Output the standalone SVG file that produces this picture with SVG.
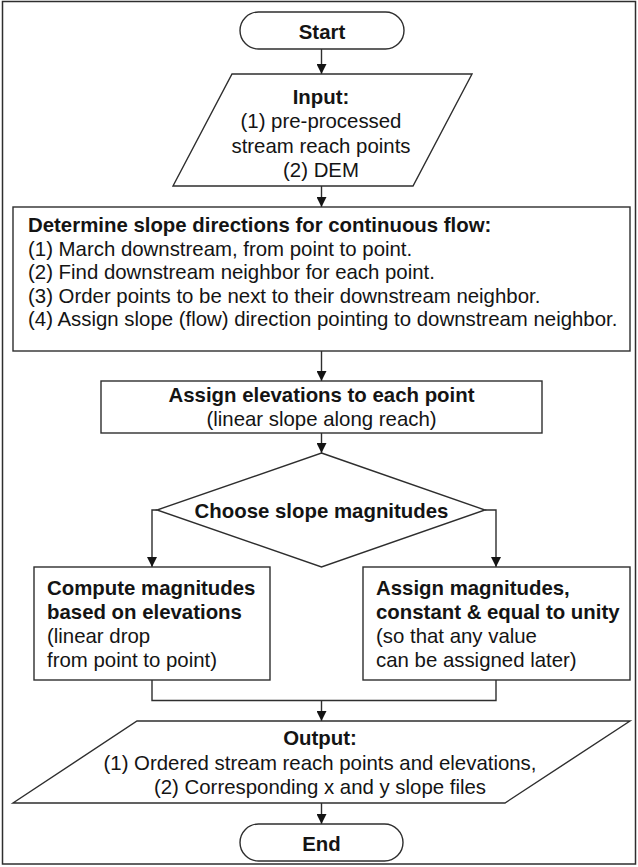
<svg xmlns="http://www.w3.org/2000/svg" width="638" height="867" viewBox="0 0 638 867">
  <style>
    .shape { fill: #ffffff; stroke: #2e2e2e; stroke-width: 1.4; }
    .line { fill: none; stroke: #2e2e2e; stroke-width: 1.4; }
    text { font-family: "Liberation Sans", Arial, sans-serif; font-size: 20.4px; fill: #141414; }
    .b { font-weight: bold; }
    .c { text-anchor: middle; }
  </style>
  <defs>
    <marker id="arrow" markerUnits="userSpaceOnUse" markerWidth="10" markerHeight="10" refX="10" refY="5" orient="auto">
      <path d="M0,0 L10,5 L0,10 Z" fill="#141414"/>
    </marker>
  </defs>

  <!-- outer frame -->
  <rect x="2.5" y="1.5" width="633" height="862.5" fill="#ffffff" stroke="#2e2e2e" stroke-width="1.5"/>

  <!-- connectors -->
  <g id="connectors">
    <line class="line" x1="321.5" y1="49" x2="321.5" y2="74" marker-end="url(#arrow)"/>
    <line class="line" x1="321.5" y1="186" x2="321.5" y2="207" marker-end="url(#arrow)"/>
    <line class="line" x1="321.5" y1="351" x2="321.5" y2="381" marker-end="url(#arrow)"/>
    <line class="line" x1="321.5" y1="433" x2="321.5" y2="453" marker-end="url(#arrow)"/>
    <polyline class="line" points="157,510 152,510 152,567" marker-end="url(#arrow)"/>
    <polyline class="line" points="485,510 496,510 496,567" marker-end="url(#arrow)"/>
    <polyline class="line" points="152,680 152,700.5 496,700.5 496,680"/>
    <line class="line" x1="321.5" y1="700.5" x2="321.5" y2="721" marker-end="url(#arrow)"/>
    <line class="line" x1="321.5" y1="803" x2="321.5" y2="824" marker-end="url(#arrow)"/>
  </g>

  <!-- Start -->
  <g id="start">
    <rect class="shape" x="240" y="12" width="164" height="37" rx="18.5" ry="18.5"/>
    <text class="b c" x="322" y="39">Start</text>
  </g>

  <!-- Input -->
  <g id="input">
    <polygon class="shape" points="232,74 472,74 413,186 173,186"/>
    <text class="b c" x="321" y="103.5">Input:</text>
    <text class="c" x="321" y="128">(1) pre-processed</text>
    <text class="c" x="321" y="152.5">stream reach points</text>
    <text class="c" x="321" y="177">(2) DEM</text>
  </g>

  <!-- Slope directions -->
  <g id="directions">
    <rect class="shape" x="13" y="207" width="617" height="144"/>
    <text class="b" x="28" y="232">Determine slope directions for continuous flow:</text>
    <text x="28" y="255.5">(1) March downstream, from point to point.</text>
    <text x="28" y="279">(2) Find downstream neighbor for each point.</text>
    <text x="28" y="302.5">(3) Order points to be next to their downstream neighbor.</text>
    <text x="28" y="326">(4) Assign slope (flow) direction pointing to downstream neighbor.</text>
  </g>

  <!-- Elevations -->
  <g id="elevations">
    <rect class="shape" x="101" y="381" width="441" height="52"/>
    <text class="b c" x="321.5" y="402">Assign elevations to each point</text>
    <text class="c" x="321.5" y="426">(linear slope along reach)</text>
  </g>

  <!-- Decision -->
  <g id="decision">
    <polygon class="shape" points="321.5,453 485,510 321.5,567 157,510"/>
    <text class="b c" x="321.5" y="518">Choose slope magnitudes</text>
  </g>

  <!-- Left option -->
  <g id="compute">
    <rect class="shape" x="34" y="567" width="236" height="113"/>
    <text class="b" x="47" y="595">Compute magnitudes</text>
    <text class="b" x="47" y="619">based on elevations</text>
    <text x="47" y="643">(linear drop</text>
    <text x="47" y="667">from point to point)</text>
  </g>

  <!-- Right option -->
  <g id="unity">
    <rect class="shape" x="363" y="567" width="267" height="113"/>
    <text class="b" x="376" y="595">Assign magnitudes,</text>
    <text class="b" x="376" y="619">constant &amp; equal to unity</text>
    <text x="376" y="643">(so that any value</text>
    <text x="376" y="667">can be assigned later)</text>
  </g>

  <!-- Output -->
  <g id="output">
    <polygon class="shape" points="137,721 630,721 505,803 13,803"/>
    <text class="b c" x="320" y="745">Output:</text>
    <text class="c" x="320" y="769.5">(1) Ordered stream reach points and elevations,</text>
    <text class="c" x="320" y="794">(2) Corresponding x and y slope files</text>
  </g>

  <!-- End -->
  <g id="end">
    <rect class="shape" x="240" y="824" width="163" height="37" rx="18.5" ry="18.5"/>
    <text class="b c" x="321.5" y="851">End</text>
  </g>
</svg>
